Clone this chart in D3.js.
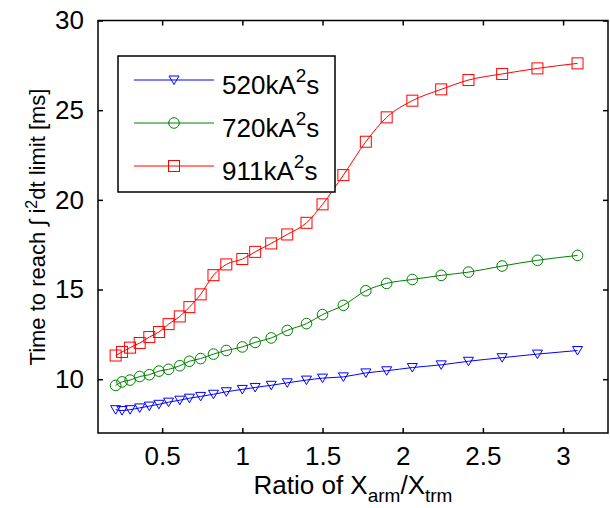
<!DOCTYPE html>
<html>
<head>
<meta charset="utf-8">
<script src="https://cdn.jsdelivr.net/npm/d3@7"></script>
<style>
  body { margin: 0; background: #fff; }
  text { font-family: "Liberation Sans", Arial, sans-serif; fill: #000; }
</style>
</head>
<body>
<div id="chart"></div>
<script>
// ratio X_arm / X_trm (same for all three series)
var ratios = [0.21, 0.25, 0.30, 0.36, 0.42, 0.48, 0.54, 0.61, 0.67, 0.74, 0.82, 0.90, 1.00, 1.08,
  1.18, 1.28, 1.40, 1.50, 1.63, 1.77, 1.90, 2.06, 2.24, 2.41, 2.62, 2.84, 3.09];

// time to reach limit [ms]
var t520 = [8.3, 8.25, 8.3, 8.4, 8.5, 8.6, 8.72, 8.83, 8.94, 9.04, 9.16, 9.3, 9.43, 9.54,
  9.66, 9.8, 9.95, 10.06, 10.13, 10.35, 10.47, 10.65, 10.8, 11.0, 11.2, 11.4, 11.6];
var t720 = [9.65, 9.85, 9.95, 10.15, 10.25, 10.45, 10.55, 10.75, 11.0, 11.15, 11.4, 11.6, 11.8, 12.05,
  12.3, 12.72, 13.1, 13.6, 14.12, 14.93, 15.34, 15.56, 15.79, 15.97, 16.31, 16.63, 16.9];
var t911 = [11.32, 11.52, 11.76, 12.02, 12.35, 12.63, 13.07, 13.5, 14.02, 14.73, 15.8, 16.4, 16.7, 17.1,
  17.57, 18.07, 18.72, 19.75, 21.38, 23.24, 24.6, 25.53, 26.16, 26.68, 27.02, 27.33, 27.61];

var seriesNames = ["520", "720", "911"];
var xTicks = [0.5, 1, 1.5, 2, 2.5, 3];
var yTicks = [10, 15, 20, 25, 30];

var width = 610, height = 508;
var mLeft = 98, mRight = 608, mTop = 20.5, mBottom = 433;

var svg = d3.select("#chart").append("svg")
  .attr("width", width)
  .attr("height", height);

var x = d3.scaleLinear().domain([0.1, 3.28]).range([mLeft, mRight]);
var y = d3.scaleLinear().domain([7, 30]).range([mBottom, mTop]);

var series = [
  { name: seriesNames[0], values: t520, color: "#0000ff", marker: "tri" },
  { name: seriesNames[1], values: t720, color: "#008000", marker: "circle" },
  { name: seriesNames[2], values: t911, color: "#ff0000", marker: "square" }
];

function drawMarker(g, type, color) {
  if (type === "tri") {
    g.append("path").attr("d", "M-5,-4L5,-4L0,4.5Z");
  } else if (type === "circle") {
    g.append("circle").attr("r", 5.3);
  } else {
    g.append("rect").attr("x", -5.5).attr("y", -5.5).attr("width", 11).attr("height", 11);
  }
  g.selectAll("*").attr("fill", "none").attr("stroke", color).attr("stroke-width", 1);
}

// lines and markers
var line = d3.line()
  .x(function(d) { return x(d[0]); })
  .y(function(d) { return y(d[1]); })
  .curve(d3.curveMonotoneX);

series.forEach(function(s) {
  var pts = ratios.map(function(r, i) { return [r, s.values[i]]; });
  svg.append("path")
    .attr("d", line(pts))
    .attr("fill", "none")
    .attr("stroke", s.color)
    .attr("stroke-width", 1);
  pts.forEach(function(p) {
    var g = svg.append("g").attr("transform", "translate(" + x(p[0]) + "," + y(p[1]) + ")");
    drawMarker(g, s.marker, s.color);
  });
});

// axes box with inward ticks on all sides
var tickLen = 5;
var xAxisB = d3.axisBottom(x).tickValues(xTicks).tickSizeInner(-tickLen).tickSizeOuter(0).tickPadding(14)
  .tickFormat(d3.format("~g"));
var xAxisT = d3.axisTop(x).tickValues(xTicks).tickSizeInner(-tickLen).tickSizeOuter(0).tickFormat("");
var yAxisL = d3.axisLeft(y).tickValues(yTicks).tickSizeInner(-tickLen).tickSizeOuter(0).tickPadding(14);
var yAxisR = d3.axisRight(y).tickValues(yTicks).tickSizeInner(-tickLen).tickSizeOuter(0).tickFormat("");

function styleAxis(g) {
  g.select(".domain").remove();
  g.selectAll(".tick line").attr("stroke", "#000").attr("stroke-width", 1.5);
  g.selectAll(".tick text").attr("font-size", 26).attr("font-family", "Liberation Sans, Arial, sans-serif");
}

svg.append("g").attr("transform", "translate(0," + mBottom + ")").call(xAxisB).call(styleAxis);
svg.append("g").attr("transform", "translate(0," + mTop + ")").call(xAxisT).call(styleAxis);
svg.append("g").attr("transform", "translate(" + mLeft + ",0)").call(yAxisL).call(styleAxis);
svg.append("g").attr("transform", "translate(" + mRight + ",0)").call(yAxisR).call(styleAxis);

svg.append("rect")
  .attr("x", mLeft).attr("y", mTop)
  .attr("width", mRight - mLeft).attr("height", mBottom - mTop)
  .attr("fill", "none").attr("stroke", "#000").attr("stroke-width", 1.5);

// axis labels
var xl = svg.append("text")
  .attr("x", (mLeft + mRight) / 2)
  .attr("y", 494)
  .attr("text-anchor", "middle")
  .attr("font-size", 26);
xl.append("tspan").text("Ratio of X");
xl.append("tspan").attr("dy", 8).attr("font-size", 19).text("arm");
xl.append("tspan").attr("dy", -8).text("/X");
xl.append("tspan").attr("dy", 8).attr("font-size", 19).text("trm");

var yl = svg.append("text")
  .attr("transform", "translate(45,227) rotate(-90)")
  .attr("text-anchor", "middle")
  .attr("font-size", 22);
yl.append("tspan").text("Time to reach \u222B i");
yl.append("tspan").attr("dy", -8).attr("font-size", 16).text("2");
yl.append("tspan").attr("dy", 8).text("dt limit [ms]");

// legend
var legend = svg.append("g");
legend.append("rect")
  .attr("x", 118).attr("y", 56)
  .attr("width", 217).attr("height", 136)
  .attr("fill", "#fff").attr("stroke", "#000").attr("stroke-width", 1.5);

var rowY = [80, 123, 166];
series.forEach(function(s, i) {
  legend.append("line")
    .attr("x1", 134).attr("x2", 214)
    .attr("y1", rowY[i]).attr("y2", rowY[i])
    .attr("stroke", s.color).attr("stroke-width", 1);
  var g = legend.append("g").attr("transform", "translate(174," + rowY[i] + ")");
  drawMarker(g, s.marker, s.color);
  var t = legend.append("text")
    .attr("x", 222).attr("y", rowY[i] + 14)
    .attr("font-size", 26);
  t.append("tspan").text(s.name + "kA");
  t.append("tspan").attr("dy", -12).attr("font-size", 19).text("2");
  t.append("tspan").attr("dy", 12).text("s");
});
</script>
</body>
</html>
